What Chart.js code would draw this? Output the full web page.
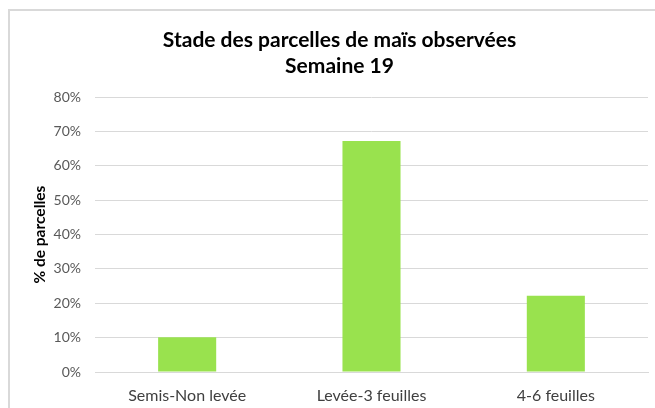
<!DOCTYPE html>
<html><head><meta charset="utf-8">
<script src="https://cdn.jsdelivr.net/npm/chart.js@4"></script>
<style>
html,body{margin:0;padding:0;background:#fff;overflow:hidden}
#wrap{position:relative;width:655px;height:408px}
#frame{position:absolute;left:8px;top:9px;width:700px;height:450px;border-left:2px solid #D9D9D9;border-top:2px solid #D9D9D9;box-sizing:border-box}
canvas{position:absolute;left:0;top:0}
</style></head>
<body>
<div id="wrap"><div id="frame"></div><canvas id="c" width="655" height="408"></canvas></div>
<script>
const categories = ["Semis-Non levée", "Levée-3 feuilles", "4-6 feuilles"];
const values = [0.101, 0.672, 0.222];
const titleLines = ["Stade des parcelles de maïs observées", "Semaine 19"];
const yAxisTitle = "% de parcelles";
const yTicks = [0, 0.1, 0.2, 0.3, 0.4, 0.5, 0.6, 0.7, 0.8];

const FONT = "Lato, 'Open Sans', sans-serif";
new Chart(document.getElementById('c'), {
  type: 'bar',
  data: {
    labels: categories,
    datasets: [{
      data: values,
      backgroundColor: '#99E24E',
      borderWidth: 0,
      categoryPercentage: 1,
      barPercentage: 0.315
    }]
  },
  options: {
    responsive: false,
    animation: false,
    layout: { padding: { left: 31, right: 7, top: 0, bottom: 0 } },
    plugins: {
      legend: { display: false },
      tooltip: { enabled: false },
      title: {
        display: true,
        text: titleLines,
        color: '#000',
        font: { family: FONT, size: 21, weight: 'bold', lineHeight: 1.24 },
        padding: { top: 27, bottom: 18 }
      }
    },
    scales: {
      x: {
        grid: { display: false, drawTicks: false },
        border: { display: true, color: '#D9D9D9', width: 1 },
        ticks: { color: '#404040', font: { family: FONT, size: 16 }, padding: 14 },
        afterFit: s => { s.height = 36; }
      },
      y: {
        min: 0, max: 0.8,
        afterBuildTicks: s => { s.ticks = yTicks.map(v => ({ value: v })); },
        grid: { color: '#D9D9D9', lineWidth: 1, drawTicks: false },
        border: { display: false },
        ticks: {
          color: '#595959',
          font: { family: FONT, size: 14 },
          padding: 14,
          callback: v => Math.round(v * 100) + '%'
        },
        title: {
          display: true, text: yAxisTitle, color: '#000',
          font: { family: FONT, size: 15.5, weight: 'bold' },
          padding: { top: 0, bottom: 8 }
        },
        afterFit: s => { s.width = 64; }
      }
    }
  }
});
</script>
</body></html>
